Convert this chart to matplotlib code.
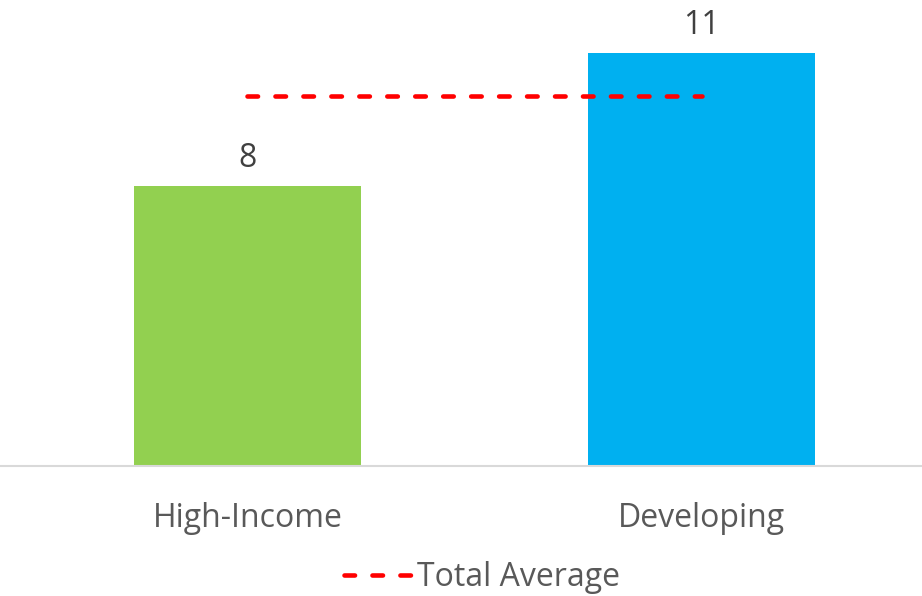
import matplotlib.pyplot as plt
import numpy as np

# grouped values
groups = ['High-Income', 'Developing']
values = [7.6, 11.2]
total_average = [10.05, 10.05]
bar_colors = ['#92D050', '#00B0F0']

plt.rcParams['font.family'] = ['Open Sans', 'DejaVu Sans']
text_color = '#595959'

fig = plt.figure(figsize=(9.22, 5.96), dpi=100)
ax = fig.add_axes([0, 130 / 596, 1, 466 / 596])

x = np.arange(len(groups))
bars = ax.bar(x, values, 0.5, color=bar_colors)
avg_line, = ax.plot(x, total_average, color='#FF0000', lw=3.3,
                    linestyle=(0, (2.3, 3.8)), dash_capstyle='round',
                    label='Total Average')

# value labels above each bar
for xi, v in zip(x, values):
    ax.annotate('{:.0f}'.format(v), (xi, v), xytext=(0, 8),
                textcoords='offset points', ha='center', va='bottom',
                fontsize=23, color='#404040')

ax.set_xlim(-247.5 / 454, 1 + (922 - 701.5) / 454)
ax.set_ylim(0, 466 / 36.84)

for side in ['top', 'right', 'left']:
    ax.spines[side].set_visible(False)
ax.spines['bottom'].set_color('#D9D9D9')
ax.spines['bottom'].set_linewidth(1.5)
ax.set_yticks([])
ax.set_xticks(x)
ax.set_xticklabels(groups, fontsize=23, color=text_color)
ax.tick_params(axis='x', length=0, pad=26)

fig.legend(handles=[avg_line], loc='center', bbox_to_anchor=(0.523, 1 - 578 / 596),
           frameon=False, fontsize=23, handlelength=2.1, handletextpad=0.2,
           labelcolor=text_color)

fig.savefig('out.png', dpi=100)
